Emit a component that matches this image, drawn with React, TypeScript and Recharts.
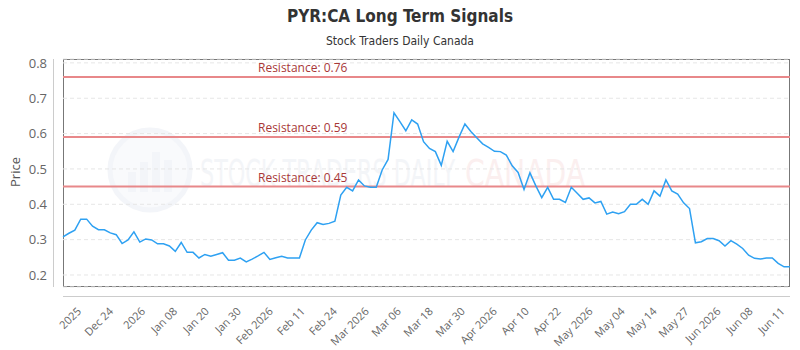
import { CartesianGrid, Line, LineChart, ReferenceLine, XAxis, YAxis } from "recharts"

// axis labels along the bottom, left to right
const tickLabels = [
  "2025", "Dec 24", "2026", "Jan 08", "Jan 20", "Jan 30", "Feb 2026", "Feb 11",
  "Feb 24", "Mar 2026", "Mar 06", "Mar 18", "Mar 30", "Apr 2026", "Apr 10",
  "Apr 22", "May 2026", "May 04", "May 14", "May 27", "Jun 2026", "Jun 08", "Jun 11",
]

// closing prices, one per session
const prices = [
  0.308, 0.318, 0.327, 0.358, 0.358, 0.338, 0.328, 0.328, 0.319, 0.314,
  0.289, 0.299, 0.322, 0.293, 0.302, 0.299, 0.288, 0.288, 0.282, 0.267,
  0.292, 0.264, 0.264, 0.248, 0.258, 0.253, 0.258, 0.263, 0.242, 0.242,
  0.248, 0.237, 0.245, 0.254, 0.264, 0.244, 0.249, 0.253, 0.248, 0.248,
  0.248, 0.299, 0.327, 0.348, 0.343, 0.346, 0.352, 0.426, 0.448, 0.438,
  0.469, 0.452, 0.448, 0.448, 0.497, 0.527, 0.659, 0.634, 0.608, 0.639,
  0.627, 0.577, 0.558, 0.549, 0.51, 0.578, 0.549, 0.59, 0.627, 0.606,
  0.588, 0.571, 0.561, 0.55, 0.549, 0.539, 0.509, 0.49, 0.442, 0.489,
  0.452, 0.419, 0.448, 0.414, 0.414, 0.405, 0.448, 0.431, 0.414, 0.418,
  0.404, 0.408, 0.372, 0.378, 0.373, 0.379, 0.4, 0.4, 0.414, 0.4,
  0.438, 0.423, 0.469, 0.438, 0.429, 0.404, 0.388, 0.291, 0.294, 0.303,
  0.303, 0.297, 0.282, 0.297, 0.287, 0.275, 0.256, 0.247, 0.245, 0.248,
  0.248, 0.233, 0.223, 0.223,
]

const resistance = [0.76, 0.59, 0.45]
const yTicks = [0.2, 0.3, 0.4, 0.5, 0.6, 0.7, 0.8]

const data = prices.map((price, i) => ({ i, price }))
const tickPos = tickLabels.map((_, k) => 3.2 + k * 5.41)

const FONT = "'Open Sans', 'DejaVu Sans', sans-serif"
const NARROW = "'Liberation Sans Narrow', 'DejaVu Sans Condensed', 'Roboto', sans-serif"

function DateTick(props: any) {
  const { x, y, index } = props
  const ty = y + 23
  return (
    <text
      x={x}
      y={ty}
      transform={`rotate(-45 ${x} ${ty})`}
      textAnchor="end"
      fontSize={11}
      fontFamily={FONT}
      fill="#666"
    >
      {tickLabels[index]}
    </text>
  )
}

function resistanceLabel(value: number) {
  return (props: any) => {
    const { viewBox } = props
    return (
      <text
        x={viewBox.x + 195}
        y={viewBox.y - 5}
        fontSize={12}
        fontFamily={FONT}
        fill="#a83838"
      >
        {`Resistance: ${value}`}
      </text>
    )
  }
}

function Backdrop() {
  return (
    <svg width={800} height={350} style={{ position: "absolute", left: 0, top: 0 }}>
      <text x={400} y={22} textAnchor="middle" fontSize={17} fontWeight="bold" fontFamily={NARROW} fill="#333">
        PYR:CA Long Term Signals
      </text>
      <text x={400} y={45} textAnchor="middle" fontSize={12} fontFamily={NARROW} fill="#333">
        Stock Traders Daily Canada
      </text>

      {/* watermark */}
      <g opacity={0.35}>
        <circle cx={150} cy={170} r={40} fill="#eef1f7" stroke="#dde3ee" strokeWidth={5} />
        <rect x={128} y={172} width={8} height={20} fill="#dfe5ef" />
        <rect x={140} y={162} width={8} height={30} fill="#dfe5ef" />
        <rect x={152} y={152} width={8} height={40} fill="#dfe5ef" />
        <rect x={164} y={160} width={8} height={32} fill="#dfe5ef" />
        <text x={200} y={186} fontSize={38} fontFamily={NARROW} fill="#dfe4ec" textLength={255} lengthAdjust="spacingAndGlyphs">
          STOCK TRADERS DAILY
        </text>
        <text x={465} y={186} fontSize={38} fontFamily={NARROW} fill="#f6d2d2" textLength={120} lengthAdjust="spacingAndGlyphs">
          CANADA
        </text>
      </g>

      {/* plot frame and offset axis lines */}
      <rect x={63.5} y={59.5} width={726} height={227} fill="none" stroke="#777" />
      <line x1={53.5} y1={59} x2={53.5} y2={287} stroke="#ccc" />
      <line x1={63} y1={296.5} x2={790} y2={296.5} stroke="#ccc" />

      <text
        x={15}
        y={172}
        transform="rotate(-90 15 172)"
        textAnchor="middle"
        dominantBaseline="central"
        fontSize={13}
        fontFamily={FONT}
        fill="#555"
      >
        Price
      </text>
    </svg>
  )
}

export default function App() {
  return (
    <div style={{ position: "absolute", left: 0, top: 0, width: 800, height: 350, background: "#fff" }}>
      <Backdrop />
      <div style={{ position: "absolute", left: 0, top: 0 }}>
        <LineChart width={800} height={350} data={data} margin={{ top: 59, right: 10, bottom: 0, left: 0 }}>
          <CartesianGrid vertical={false} stroke="#e6e6e6" strokeDasharray="4 3" />
          <XAxis
            dataKey="i"
            type="number"
            domain={[0, prices.length - 1]}
            ticks={tickPos}
            interval={0}
            height={63}
            axisLine={false}
            tickLine={false}
            tickSize={0}
            tick={<DateTick />}
          />
          <YAxis
            type="number"
            domain={[0.166, 0.811]}
            ticks={yTicks}
            width={63}
            axisLine={false}
            tickLine={false}
            tickSize={0}
            tickMargin={16}
            tickFormatter={(v: number) => v.toFixed(1)}
            tick={{ fontSize: 13, fill: "#666", fontFamily: FONT }}
            allowDataOverflow
          />
          {resistance.map((r) => (
            <ReferenceLine
              key={r}
              y={r}
              stroke="#e8888a"
              strokeWidth={2}
              label={resistanceLabel(r)}
            />
          ))}
          <Line
            dataKey="price"
            stroke="#2ea1f2"
            strokeWidth={1.5}
            dot={false}
            isAnimationActive={false}
          />
        </LineChart>
      </div>
    </div>
  )
}
